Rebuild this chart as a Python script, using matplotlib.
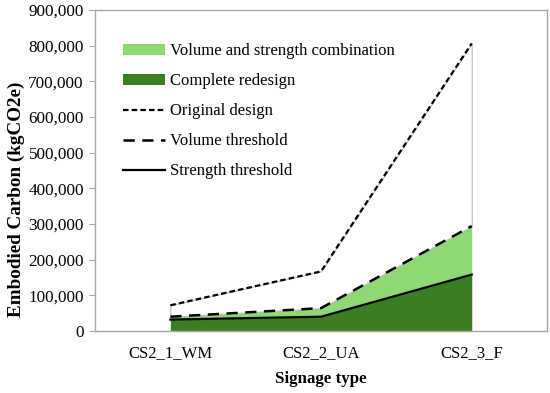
import numpy as np
import matplotlib.pyplot as plt
from matplotlib.patches import Patch
from matplotlib.lines import Line2D
from matplotlib.ticker import FuncFormatter

plt.rcParams['font.family'] = ['Liberation Serif', 'DejaVu Serif']

# data (kgCO2e)
signage = ['CS2_1_WM', 'CS2_2_UA', 'CS2_3_F']
original_design = [72000, 167000, 806000]
volume_threshold = [40000, 64000, 294000]
strength_threshold = [32000, 40000, 158000]

light_green = '#8ED973'
dark_green = '#3B7D23'
frame_grey = '#A6A6A6'

x = np.arange(len(signage))

fig = plt.figure(figsize=(5.5, 3.93), dpi=100)
ax = fig.add_axes([0.1727, 0.1578, 0.822, 0.817])

# stacked areas
ax.fill_between(x, 0, strength_threshold, color=dark_green, lw=0)
ax.fill_between(x, strength_threshold, volume_threshold, color=light_green, lw=0)
ax.fill_between(x, volume_threshold, original_design, facecolor='white',
                edgecolor='#BFBFBF', lw=0.8)

# threshold lines
ax.plot(x, original_design, color='black', lw=1.6, dashes=(2.5, 1.4))
ax.plot(x, volume_threshold, color='black', lw=1.8, dashes=(4.5, 3))
ax.plot(x, strength_threshold, color='black', lw=1.6)

ax.set_xlim(-0.5, 2.5)
ax.set_ylim(0, 900000)
ax.set_yticks(np.arange(0, 900001, 100000))
ax.yaxis.set_major_formatter(FuncFormatter(lambda v, p: f'{int(v):,}'))
ax.set_xticks(x)
ax.set_xticklabels(signage)
ax.tick_params(axis='x', length=0, pad=10.5, labelsize=12)
ax.tick_params(axis='y', length=4, color=frame_grey, labelsize=12.3, pad=4)

for s in ax.spines.values():
    s.set_color(frame_grey)
    s.set_linewidth(1.0)

ax.set_xlabel('Signage type', fontsize=12.2, fontweight='bold', labelpad=7)
ax.set_ylabel('Embodied Carbon (kgCO2e)', fontsize=13.8, fontweight='bold')
# Excel puts the title a bit below the axis middle
ax.yaxis.set_label_coords(-0.155, 0.41)

handles = [
    Patch(facecolor=light_green, label='Volume and strength combination'),
    Patch(facecolor=dark_green, label='Complete redesign'),
    Line2D([], [], color='black', lw=1.6, dashes=(2.5, 1.4), label='Original design'),
    Line2D([], [], color='black', lw=1.8, dashes=(4.5, 3), label='Volume threshold'),
    Line2D([], [], color='black', lw=1.6, label='Strength threshold'),
]
ax.legend(handles=handles, loc='upper left', bbox_to_anchor=(0.0295, 0.9425),
          frameon=False, fontsize=12, handlelength=2.5, handleheight=0.6,
          labelspacing=0.84, handletextpad=0.3)

fig.savefig('out.png', dpi=100)
